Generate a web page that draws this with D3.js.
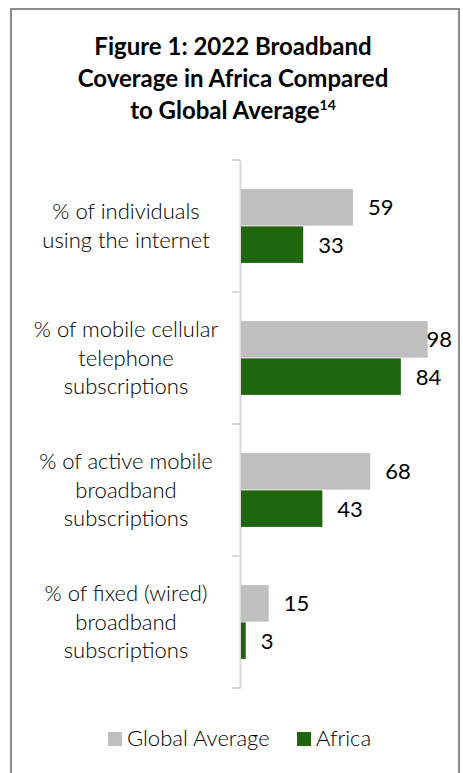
<!DOCTYPE html>
<html>
<head>
<meta charset="utf-8">
<script src="https://cdn.jsdelivr.net/npm/d3@7"></script>
<style>
  body { margin: 0; background: #fff; }
  svg { display: block; }
  text { font-family: Lato, "Open Sans", sans-serif; }
</style>
</head>
<body>
<div id="container"></div>
<script>
// chart values
var categories = [
  "% of individuals\nusing the internet",
  "% of mobile cellular\ntelephone\nsubscriptions",
  "% of active mobile\nbroadband\nsubscriptions",
  "% of fixed (wired)\nbroadband\nsubscriptions"
]
var series = ["Global Average", "Africa"]
var globalValues = [59, 98, 68, 15]
var africaValues = [33, 84, 43, 3]
var colors = ["#bfbfbf", "#1f650d"]
var titleLines = ["Figure 1: 2022 Broadband", "Coverage in Africa Compared", "to Global Average"]
var footnote = "14"

var width = 463, height = 773

var svg = d3.select("#container").append("svg")
  .attr("width", width)
  .attr("height", height)

// frame (no bottom edge visible in the crop)
svg.append("path")
  .attr("d", "M11," + height + "V9H459V" + height)
  .attr("fill", "none")
  .attr("stroke", "#8c8c8c")
  .attr("stroke-width", 2)

// title
var title = svg.append("text")
  .attr("text-anchor", "middle")
  .attr("font-weight", "bold")
  .attr("font-size", "24px")
  .attr("fill", "#000")
titleLines.forEach(function (line, i) {
  var t = title.append("tspan")
    .attr("x", 233)
    .attr("y", 55 + i * 32)
    .text(line)
  if (i == titleLines.length - 1) {
    t.append("tspan")
      .attr("font-size", "14px")
      .attr("dy", "-9")
      .text(footnote)
  }
})

var y = d3.scaleBand()
  .domain(categories)
  .range([160, 688])
  .padding(0)

var y1 = d3.scaleBand()
  .domain(series)
  .range([0, y.bandwidth()])
  .paddingInner(0.02)
  .paddingOuter(0.78)

var x = d3.scaleLinear()
  .domain([0, 100])
  .range([240, 431.5])

var rows = categories.map(function (c, i) {
  return { cat: c, values: [globalValues[i], africaValues[i]] }
})

// category axis
var axis = svg.append("g")
  .attr("transform", "translate(240,0)")
  .call(d3.axisLeft(y).tickSize(0).tickFormat(""))
axis.select(".domain").attr("stroke", "#d9d9d9").attr("stroke-width", 2)
axis.selectAll(".tick").remove()

var boundaries = categories.map(function (c) { return y(c) }).concat([y.range()[1]])
axis.selectAll(".sep")
  .data(boundaries)
  .enter().append("line")
  .attr("x1", -8).attr("x2", 0)
  .attr("y1", d => d).attr("y2", d => d)
  .attr("stroke", "#d9d9d9")
  .attr("stroke-width", 2)

// category labels
rows.forEach(function (r) {
  var lines = r.cat.split("\n")
  var cy = y(r.cat) + y.bandwidth() / 2
  var lh = 28.5
  var t = svg.append("text")
    .attr("text-anchor", "middle")
    .attr("font-size", "22px")
    .attr("font-weight", 300)
    .attr("fill", "#000")
  lines.forEach(function (line, i) {
    t.append("tspan")
      .attr("x", 126)
      .attr("y", cy + (i - (lines.length - 1) / 2) * lh)
      .attr("dy", "0.35em")
      .text(line)
  })
})

// bars
var groups = svg.selectAll(".group")
  .data(rows)
  .enter().append("g")
  .attr("class", "group")
  .attr("transform", d => "translate(0," + y(d.cat) + ")")

groups.selectAll("rect")
  .data(d => d.values.map((v, i) => ({ s: series[i], v: v, i: i })))
  .enter().append("rect")
  .attr("x", x(0) + 1)
  .attr("y", d => y1(d.s))
  .attr("width", d => x(d.v) - x(0) - 1)
  .attr("height", y1.bandwidth())
  .attr("fill", d => colors[d.i])

groups.selectAll(".val")
  .data(d => d.values.map((v, i) => ({ s: series[i], v: v, i: i })))
  .enter().append("text")
  .attr("class", "val")
  .attr("y", d => y1(d.s) + y1.bandwidth() / 2)
  .attr("dy", "0.36em")
  .attr("font-size", "22px")
  .attr("fill", "#000")
  .text(d => d.v)
  .attr("x", function (d) {
    var w = this.getComputedTextLength()
    return Math.min(x(d.v) + 15, 452 - w)
  })

// legend
var legendX = [108, 297]
var legend = svg.selectAll(".legend")
  .data(series)
  .enter().append("g")
  .attr("class", "legend")
  .attr("transform", (d, i) => "translate(" + legendX[i] + ",732)")

legend.append("rect")
  .attr("width", 14).attr("height", 14)
  .attr("fill", (d, i) => colors[i])

legend.append("text")
  .attr("x", 19)
  .attr("y", 14)
  .attr("font-size", "22px")
  .attr("font-weight", 300)
  .attr("fill", "#000")
  .text(d => d)
</script>
</body>
</html>
